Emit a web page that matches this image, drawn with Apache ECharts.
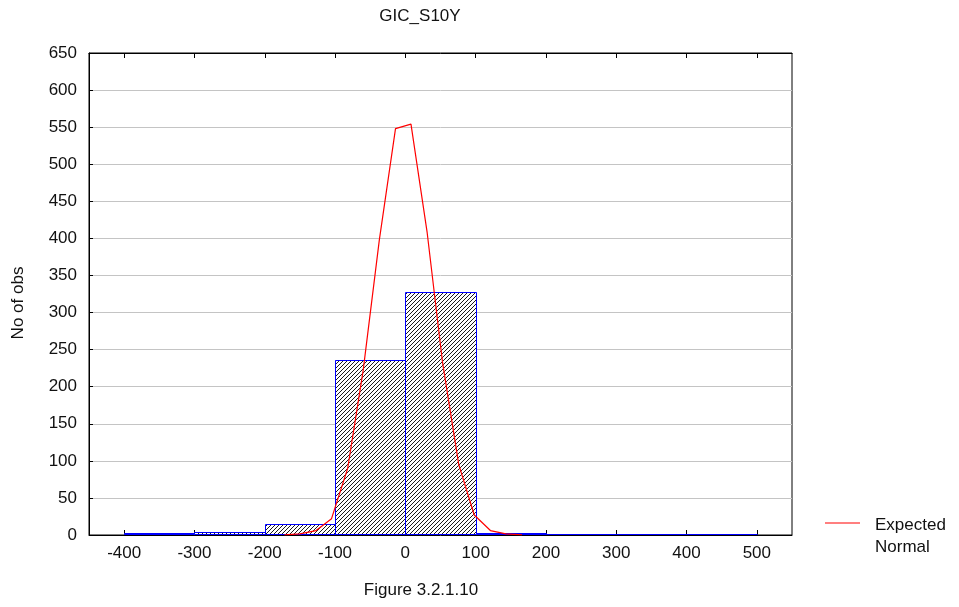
<!DOCTYPE html>
<html>
<head>
<meta charset="utf-8">
<script src="https://cdn.jsdelivr.net/npm/echarts@6/dist/echarts.min.js"></script>
<style>
  html, body { margin: 0; padding: 0; background: #fff; }
  #chart { width: 959px; height: 607px; }
</style>
</head>
<body>
<div id="chart"></div>
<script>
// Histogram of GIC_S10Y with the expected normal curve
const binEdges = [-400, -300, -200, -100, 0, 100, 200, 300, 400, 500];
const binCounts = [1, 3, 14, 235, 327, 2, 0, 0, 0];
const curveX = [-172, -150, -127, -105, -82, -60, -37, -14, 8, 31, 53, 76, 98, 121, 143, 166];
const curveY = [0.3, 1.5, 6, 22, 90, 222, 398, 548, 554, 408, 232, 95, 27, 6, 1.5, 0.3];
const xTickValues = [-400, -300, -200, -100, 0, 100, 200, 300, 400, 500];

const FONT = '"Liberation Sans", Arial, sans-serif';
const FS = 17;

// diagonal hatch pattern for the bars
function makeHatch() {
  const c = document.createElement('canvas');
  c.width = 4; c.height = 4;
  const g = c.getContext('2d');
  g.fillStyle = '#ffffff';
  g.fillRect(0, 0, 4, 4);
  g.strokeStyle = '#1a1a1a';
  g.lineWidth = 1.0;
  for (let k = 0; k <= 2; k++) {
    g.beginPath();
    g.moveTo(4 * k + 0.5, -0.5);
    g.lineTo(4 * k - 4.5, 4.5);
    g.stroke();
  }
  return c;
}
const hatch = { image: makeHatch(), repeat: 'repeat' };

const bins = binCounts.map((n, i) => [binEdges[i], binEdges[i + 1], n]);
const curve = curveX.map((x, i) => [x, curveY[i]]);

const chart = echarts.init(document.getElementById('chart'), null, { renderer: 'canvas' });

chart.setOption({
  animation: false,
  backgroundColor: '#ffffff',
  textStyle: { fontFamily: FONT },
  grid: {
    left: 89, right: 167, top: 53, bottom: 72,
    show: true, borderColor: '#000', borderWidth: 1, backgroundColor: 'transparent'
  },
  xAxis: [
    {
      type: 'value', min: -450, max: 550, position: 'bottom',
      axisLine: { show: true, onZero: false, lineStyle: { color: '#000', width: 1 } },
      axisTick: { show: true, inside: true, length: 5, customValues: xTickValues, lineStyle: { color: '#000' } },
      axisLabel: { customValues: xTickValues, color: '#111', fontSize: FS, fontFamily: FONT, margin: 10 },
      splitLine: { show: false }
    },
    {
      type: 'value', min: -450, max: 550, position: 'top',
      axisLine: { show: true, onZero: false, lineStyle: { color: '#000', width: 1 } },
      axisTick: { show: true, inside: true, length: 5, customValues: xTickValues, lineStyle: { color: '#000' } },
      axisLabel: { show: false },
      splitLine: { show: false }
    }
  ],
  yAxis: [
    {
      type: 'value', min: 0, max: 650, interval: 50, position: 'left',
      axisLine: { show: true, onZero: false, lineStyle: { color: '#000', width: 1 } },
      axisTick: { show: true, inside: true, length: 4, lineStyle: { color: '#000' } },
      axisLabel: { color: '#111', fontSize: FS, fontFamily: FONT, margin: 12 },
      splitLine: { show: true, lineStyle: { color: '#c4c4c4', width: 1 } }
    }
  ],
  series: [
    {
      type: 'custom',
      name: 'bins',
      xAxisIndex: 0,
      yAxisIndex: 0,
      encode: { x: [0, 1], y: 2 },
      data: bins,
      z: 2,
      renderItem: function (params, api) {
        const lo = api.value(0), hi = api.value(1), n = api.value(2);
        const p0 = api.coord([lo, n]);
        const p1 = api.coord([hi, 0]);
        const x0 = Math.round(p0[0]) + 0.5, x1 = Math.round(p1[0]) + 0.5;
        const y0 = Math.round(p0[1]) - 0.5, y1 = Math.round(p1[1]) - 0.5;
        return {
          type: 'rect',
          shape: { x: x0, y: y0, width: x1 - x0, height: y1 - y0 },
          style: { fill: hatch, stroke: '#0000ff', lineWidth: 1 }
        };
      }
    },
    {
      type: 'line',
      name: 'Expected Normal',
      xAxisIndex: 0,
      yAxisIndex: 0,
      data: curve,
      symbol: 'none',
      z: 5,
      lineStyle: { color: '#ff0000', width: 1.2 },
      itemStyle: { color: '#ff0000' }
    }
  ],
  graphic: [
    {
      type: 'text', x: 420, y: 16,
      style: { text: 'GIC_S10Y', fill: '#111', font: FS + 'px ' + FONT, textAlign: 'center', textVerticalAlign: 'middle' }
    },
    {
      type: 'text', x: 421, y: 590,
      style: { text: 'Figure 3.2.1.10', fill: '#111', font: FS + 'px ' + FONT, textAlign: 'center', textVerticalAlign: 'middle' }
    },
    {
      type: 'text', x: 18, y: 303, rotation: Math.PI / 2,
      style: { text: 'No of obs', fill: '#111', font: FS + 'px ' + FONT, textAlign: 'center', textVerticalAlign: 'middle' }
    },
    {
      type: 'line',
      shape: { x1: 825, y1: 523, x2: 860, y2: 523 },
      style: { stroke: '#ff0000', lineWidth: 1.2 }
    },
    {
      type: 'text', x: 875, y: 514,
      style: { text: 'Expected\nNormal', fill: '#111', font: FS + 'px ' + FONT, lineHeight: 22, textAlign: 'left', textVerticalAlign: 'top' }
    }
  ]
});
</script>
</body>
</html>
